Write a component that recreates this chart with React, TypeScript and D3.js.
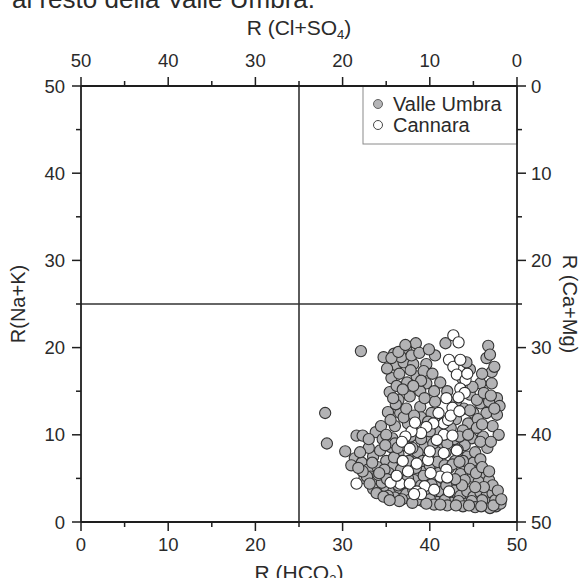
import React from "react";
import * as d3 from "d3";

// R(HCO3) on x, R(Na+K) on y
const valleUmbra: [number, number][] = [
  [28.0, 12.5], [28.2, 9.0], [32.1, 19.6], [30.3, 8.1], [31.6, 9.9], [32.3, 9.9],
  [34.7, 18.9], [35.9, 19.3], [37.3, 19.8], [38.4, 20.5], [36.1, 18.0], [37.0, 18.3], [38.1, 18.1], [39.6, 18.1],
  [35.6, 16.5], [36.5, 17.0], [38.5, 16.7], [35.4, 14.9], [37.7, 14.4], [39.6, 15.9], [38.9, 15.0], [36.7, 18.9],
  [37.9, 19.1], [35.1, 17.6], [36.2, 15.6], [38.8, 19.4], [37.4, 16.0], [39.3, 17.3],
  [40.6, 19.1], [41.8, 20.5], [44.6, 17.5], [46.7, 20.2], [46.5, 18.8], [47.1, 17.2], [47.4, 17.8], [45.8, 15.9],
  [47.1, 15.9], [47.7, 14.2], [48.0, 13.3], [46.5, 12.5], [47.7, 12.3], [44.6, 14.6], [45.0, 12.5], [45.8, 13.6],
  [44.4, 11.3], [46.1, 9.8], [43.7, 16.5], [44.9, 15.5], [46.8, 13.8], [47.4, 13.0], [43.9, 13.0], [45.5, 11.8],
  [35.2, 12.6], [36.6, 12.5], [37.5, 11.3], [38.9, 13.2], [40.6, 13.8], [39.0, 12.0], [36.0, 11.0], [38.3, 10.2],
  [39.8, 9.2], [41.2, 9.0], [43.8, 10.5], [44.8, 9.6], [45.4, 10.8], [33.8, 10.3], [34.6, 9.5], [35.7, 9.6],
  [37.0, 12.0], [43.0, 11.8], [41.0, 10.5], [40.2, 12.5], [44.0, 8.8], [42.8, 9.5],
  [31.4, 7.3], [32.2, 6.8], [32.9, 6.0], [33.5, 7.5], [34.3, 8.2], [35.0, 7.0], [35.8, 6.4], [36.4, 7.8],
  [37.1, 8.8], [38.0, 7.2], [38.8, 6.8], [39.6, 7.5], [40.4, 6.6], [41.2, 7.2], [42.2, 6.2], [42.9, 7.0],
  [43.6, 6.4], [44.3, 7.5], [45.0, 6.8], [45.7, 6.0], [46.3, 5.5], [44.9, 5.2], [43.5, 5.5], [41.0, 5.6],
  [39.9, 5.0], [38.5, 5.6], [37.2, 6.2], [35.3, 5.6], [34.0, 6.3], [33.2, 5.2], [32.5, 5.0], [34.7, 4.7],
  [36.2, 5.3], [43.2, 8.3], [41.8, 8.0], [39.4, 8.6], [36.8, 7.0], [35.5, 8.6], [34.8, 6.0], [33.7, 4.6],
  [44.0, 4.8], [45.6, 4.6], [46.8, 4.8], [42.5, 4.5], [40.7, 4.5],
  [33.5, 3.8], [34.3, 3.3], [35.0, 4.0], [35.8, 3.5], [36.5, 3.9], [37.3, 3.2], [38.1, 3.7], [38.9, 3.0],
  [39.7, 3.5], [40.5, 3.0], [41.3, 3.4], [42.0, 2.8], [42.8, 3.6], [43.5, 3.0], [44.3, 3.5], [45.0, 2.9],
  [45.8, 3.4], [46.5, 3.0], [47.2, 3.3], [47.9, 2.7], [36.0, 2.8], [37.8, 2.6], [39.2, 2.4], [40.9, 2.3],
  [42.5, 2.2], [44.1, 2.1], [45.5, 2.0], [46.4, 1.9], [47.0, 2.2], [47.6, 1.8], [46.0, 2.5], [44.8, 2.4],
  [43.3, 2.4], [41.7, 2.5], [40.0, 2.6], [38.5, 2.5], [36.8, 2.6], [35.2, 3.0], [34.5, 4.5], [47.5, 2.5],
  [48.1, 2.1], [46.9, 1.6], [45.2, 1.7], [43.8, 1.8], [42.0, 1.9], [40.5, 2.0],
  [36.0, 9.0], [37.8, 9.8], [38.6, 8.0], [40.0, 10.4], [41.6, 11.3], [42.4, 10.8], [44.6, 12.8], [45.2, 8.0],
  [43.0, 13.8], [39.4, 14.2], [36.4, 14.0], [34.4, 11.0], [33.0, 8.5], [32.0, 8.0], [31.0, 6.5], [33.0, 9.5],
  [45.8, 7.2], [46.6, 8.5], [47.2, 11.0], [47.9, 10.0], [46.0, 11.2], [42.0, 15.0], [41.2, 16.0], [40.3, 17.0],
  [40.5, 15.0], [37.3, 13.0], [36.1, 13.5], [35.0, 10.0], [39.5, 6.0], [40.8, 8.0], [41.5, 5.0], [43.8, 7.0],
  [36.9, 4.6], [38.2, 4.8], [39.0, 4.2], [35.6, 4.8], [33.9, 3.3], [34.7, 2.9], [32.8, 5.2],
  [33.4, 6.8], [34.1, 5.4], [35.9, 7.4], [36.7, 6.0], [37.6, 7.0], [38.4, 6.2], [39.2, 7.0], [40.0, 6.5],
  [40.9, 6.9], [41.7, 6.5], [42.6, 6.6], [43.4, 6.9], [44.6, 6.1], [45.3, 5.6], [46.0, 6.3], [46.8, 5.8],
  [47.2, 4.2], [47.8, 3.6], [46.2, 4.0], [45.2, 4.0], [43.7, 4.2], [42.9, 4.9], [41.9, 4.2], [40.2, 4.3],
  [39.3, 5.3], [37.5, 5.0], [36.4, 4.2], [35.1, 4.9], [34.2, 5.6], [33.1, 4.4], [32.3, 5.8], [31.8, 6.2],
  [34.9, 8.8], [36.3, 8.5], [38.0, 8.5], [39.0, 9.5], [40.4, 9.0], [42.0, 9.0], [43.4, 9.8], [44.4, 10.0],
  [45.8, 9.2], [47.0, 9.2], [35.6, 18.8], [36.4, 19.5], [37.8, 17.4], [39.0, 16.2], [38.1, 15.6], [36.9, 15.2],
  [35.8, 14.2], [39.9, 19.8], [37.2, 20.3], [44.2, 18.3], [45.4, 14.0], [46.2, 14.8], [47.0, 14.5], [46.0, 17.0],
  [46.9, 19.2], [38.2, 12.2], [39.8, 11.5], [35.5, 11.7],
  [44.5, 1.9], [45.9, 1.8], [47.3, 1.9], [48.2, 2.6], [43.0, 1.9], [41.2, 2.0], [39.6, 2.1], [38.0, 2.2],
  [36.5, 2.4], [35.4, 2.5],
];

const cannara: [number, number][] = [
  [42.7, 21.4], [43.3, 20.6], [42.2, 18.6], [42.7, 17.8], [43.5, 18.6], [43.1, 16.9], [44.1, 16.3], [43.5, 15.3],
  [44.0, 14.8], [43.3, 14.3], [41.9, 14.2], [41.0, 12.5], [42.6, 13.1], [41.6, 11.3], [42.1, 11.7], [40.4, 11.3],
  [39.6, 10.9], [41.6, 10.0], [39.0, 10.2], [37.9, 10.4], [37.2, 9.8], [36.8, 9.2], [37.7, 8.4], [41.6, 7.9],
  [43.1, 8.2], [38.5, 6.7], [39.8, 7.1], [41.9, 6.0], [41.2, 5.2], [36.6, 4.4], [37.7, 4.4], [39.4, 4.1],
  [38.5, 3.5], [40.5, 3.7], [42.0, 5.1], [31.6, 4.4], [35.5, 4.5], [36.2, 5.3], [40.0, 8.1], [42.6, 9.9],
  [42.4, 12.2], [42.2, 3.5], [40.1, 5.6], [39.0, 3.2], [36.9, 7.0], [37.5, 5.8], [40.8, 9.4], [38.2, 3.2],
  [43.4, 12.7], [38.3, 11.4], [44.3, 17.0],
];

const axisTicks = [0, 10, 20, 30, 40, 50];
const minorTicks = [5, 15, 25, 35, 45];
const legendLabels = ["Valle Umbra", "Cannara"];

const W = 581;
const H = 578;
const L = 81, R = 517, T = 86, B = 522;
const FONT = "'Liberation Sans', Arial, sans-serif";
const TXT = "#2a2a2a";
const AX = "#1e1e1e";

export default function App() {
  const x = d3.scaleLinear().domain([0, 50]).range([L, R]);
  const y = d3.scaleLinear().domain([0, 50]).range([B, T]);
  const xTop = d3.scaleLinear().domain([50, 0]).range([L, R]);
  const yRight = d3.scaleLinear().domain([0, 50]).range([T, B]);
  const major = 9, minor = 5;
  const fs = 18.5;
  const tfs = 21;

  return (
    <svg width={W} height={H} style={{ position: "fixed", left: 0, top: 0, background: "#fff" }} fontFamily={FONT}>
      {/* cut caption at top */}
      <text x={12} y={8} fontSize={26} fill={TXT}>al resto della Valle Umbra.</text>

      {/* quadrant lines */}
      <line x1={x(25)} x2={x(25)} y1={T} y2={B} stroke="#333" strokeWidth={1.6} />
      <line x1={L} x2={R} y1={y(25)} y2={y(25)} stroke="#333" strokeWidth={1.6} />

      {/* points */}
      {valleUmbra.map((d, i) => (
        <circle key={"v" + i} cx={x(d[0])} cy={y(d[1])} r={5.6} fill="#b3b3b5" stroke="#333" strokeWidth={1.1} />
      ))}
      {cannara.map((d, i) => (
        <circle key={"c" + i} cx={x(d[0])} cy={y(d[1])} r={5.6} fill="#ffffff" stroke="#2e2e2e" strokeWidth={1.1} />
      ))}

      {/* legend */}
      <rect x={363} y={T} width={R - 363} height={144 - T} fill="#fff" stroke="#8a8a8a" strokeWidth={1} />
      <circle cx={378} cy={104} r={4.5} fill="#b5b5b7" stroke="#555" strokeWidth={0.9} />
      <text x={393} y={111} fontSize={20} fill={TXT}>{legendLabels[0]}</text>
      <circle cx={378} cy={125} r={4.5} fill="#fff" stroke="#333" strokeWidth={0.9} />
      <text x={393} y={132} fontSize={20} fill={TXT}>{legendLabels[1]}</text>

      {/* frame */}
      <line x1={L} x2={R} y1={T} y2={T} stroke={AX} strokeWidth={1.8} />
      <line x1={L} x2={R} y1={B} y2={B} stroke={AX} strokeWidth={1.8} />
      <line x1={L} x2={L} y1={T} y2={B} stroke={AX} strokeWidth={1.8} />
      <line x1={R} x2={R} y1={T} y2={B} stroke={AX} strokeWidth={1.8} />

      {/* bottom axis */}
      {axisTicks.map((t) => (
        <g key={"b" + t}>
          <line x1={x(t)} x2={x(t)} y1={B} y2={B + major} stroke={AX} strokeWidth={1.5} />
          <text x={x(t)} y={551} fontSize={fs} textAnchor="middle" fill={TXT}>{t}</text>
        </g>
      ))}
      {minorTicks.map((t) => (
        <line key={"bm" + t} x1={x(t)} x2={x(t)} y1={B} y2={B + minor} stroke={AX} strokeWidth={1.5} />
      ))}

      {/* top axis */}
      {axisTicks.map((t) => (
        <g key={"t" + t}>
          <line x1={xTop(t)} x2={xTop(t)} y1={T} y2={T - major} stroke={AX} strokeWidth={1.5} />
          <text x={xTop(t)} y={67} fontSize={fs} textAnchor="middle" fill={TXT}>{t}</text>
        </g>
      ))}
      {minorTicks.map((t) => (
        <line key={"tm" + t} x1={xTop(t)} x2={xTop(t)} y1={T} y2={T - minor} stroke={AX} strokeWidth={1.5} />
      ))}

      {/* left axis */}
      {axisTicks.map((t) => (
        <g key={"l" + t}>
          <line x1={L} x2={L - major} y1={y(t)} y2={y(t)} stroke={AX} strokeWidth={1.5} />
          <text x={L - 16} y={y(t) + 6.5} fontSize={fs} textAnchor="end" fill={TXT}>{t}</text>
        </g>
      ))}
      {minorTicks.map((t) => (
        <line key={"lm" + t} x1={L} x2={L - minor} y1={y(t)} y2={y(t)} stroke={AX} strokeWidth={1.5} />
      ))}

      {/* right axis */}
      {axisTicks.map((t) => (
        <g key={"r" + t}>
          <line x1={R} x2={R + major} y1={yRight(t)} y2={yRight(t)} stroke={AX} strokeWidth={1.5} />
          <text x={R + 14} y={yRight(t) + 6.5} fontSize={fs} textAnchor="start" fill={TXT}>{t}</text>
        </g>
      ))}
      {minorTicks.map((t) => (
        <line key={"rm" + t} x1={R} x2={R + minor} y1={yRight(t)} y2={yRight(t)} stroke={AX} strokeWidth={1.5} />
      ))}

      {/* axis titles */}
      <text x={x(25)} y={35} fontSize={tfs} textAnchor="middle" fill={TXT}>
        R (Cl+SO<tspan dy={4} fontSize={13}>4</tspan><tspan dy={-4}>)</tspan>
      </text>
      <text x={x(25)} y={580} fontSize={tfs} textAnchor="middle" fill={TXT}>
        R (HCO<tspan dy={4} fontSize={13}>3</tspan><tspan dy={-4}>)</tspan>
      </text>
      <text transform={`translate(25,${y(25)}) rotate(-90)`} fontSize={20} textAnchor="middle" fill={TXT}>R(Na+K)</text>
      <text transform={`translate(563,${y(25)}) rotate(90)`} fontSize={20} textAnchor="middle" fill={TXT}>R (Ca+Mg)</text>
    </svg>
  );
}
